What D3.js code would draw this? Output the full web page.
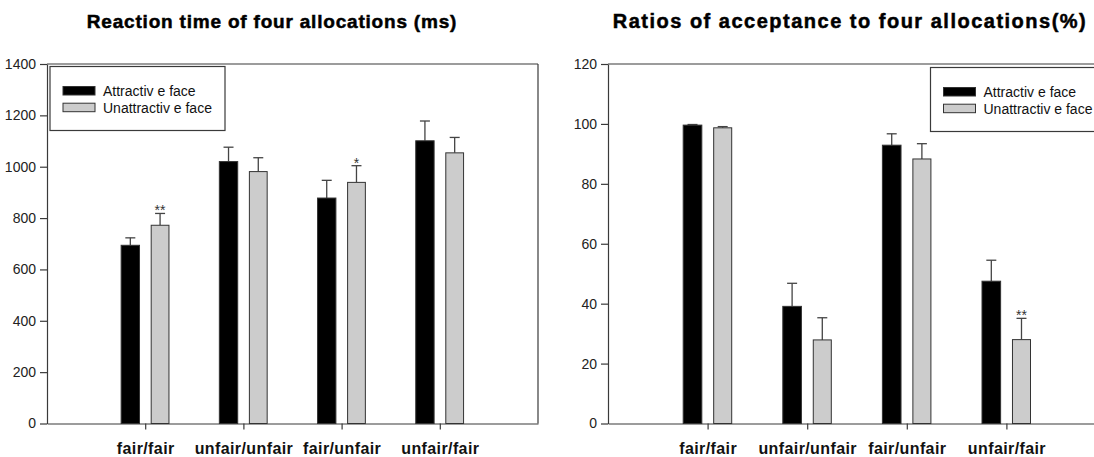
<!DOCTYPE html>
<html lang="en">
<head>
<meta charset="utf-8">
<title>Reaction time and acceptance</title>
<script src="https://cdn.jsdelivr.net/npm/d3@7"></script>
<style>
    body { margin: 0; background: #fff; }
    text { font-family: "Liberation Sans", Arial, sans-serif; }
</style>
</head>
<body>
<div id="chart"></div>
<script>
// data
var categories = ["fair/fair", "unfair/unfair", "fair/unfair", "unfair/fair"];
var seriesNames = ["Attractiv e face", "Unattractiv e face"];

var rtAttractive = [694, 1020, 878, 1101];
var rtAttractiveErr = [29, 56, 69, 77];
var rtUnattractive = [772, 981, 939, 1054];
var rtUnattractiveErr = [46, 54, 65, 60];
var rtStars = ["**", "", "*", ""];
var rtTicks = [0, 200, 400, 600, 800, 1000, 1200, 1400];

var accAttractive = [99.6, 39.1, 92.9, 47.5];
var accAttractiveErr = [0.2, 7.7, 3.8, 7.0];
var accUnattractive = [98.7, 27.9, 88.3, 28.0];
var accUnattractiveErr = [0.4, 7.4, 5.1, 7.1];
var accStars = ["", "", "", "**"];
var accTicks = [0, 20, 40, 60, 80, 100, 120];

var W = 1094, H = 457;
var svg = d3.select("#chart").append("svg")
    .attr("width", W).attr("height", H);

var lineCol = "#3a3a3a";

function panel(cfg) {
    var g = svg.append("g");
    var x = d3.scaleLinear().domain([0, 5]).range([cfg.left, cfg.right]);
    var y = d3.scaleLinear().domain([0, cfg.ymax]).range([423.5, 64]);

    // title
    g.append("text")
        .attr("x", cfg.titleX).attr("y", 28)
        .attr("text-anchor", "middle")
        .style("font-size", cfg.titleSize + "px").style("font-weight", "bold")
        .style("letter-spacing", cfg.titleSpacing + "px")
        .attr("stroke", "#000").attr("stroke-width", 0.5)
        .text(cfg.title);

    // frame top / right
    g.append("line").attr("x1", x(0)).attr("x2", x(5)).attr("y1", y(cfg.ymax)).attr("y2", y(cfg.ymax))
        .attr("stroke", lineCol).attr("stroke-width", 1.2);
    g.append("line").attr("x1", x(5)).attr("x2", x(5)).attr("y1", y(0)).attr("y2", y(cfg.ymax))
        .attr("stroke", lineCol).attr("stroke-width", 1.2);

    // y axis
    var ya = g.append("g").attr("transform", "translate(" + x(0) + ",0)")
        .call(d3.axisLeft(y).tickValues(cfg.ticks).tickFormat(d3.format("d"))
            .tickSize(7).tickPadding(4).tickSizeOuter(0));
    ya.selectAll("text").style("font-size", "14px").attr("fill", "#222").style("font-family", "Liberation Sans, Arial, sans-serif");
    ya.selectAll("line, path").attr("stroke", lineCol).attr("stroke-width", 1.2);

    // x axis
    var xa = g.append("g").attr("transform", "translate(0," + y(0) + ")")
        .call(d3.axisBottom(x).tickValues([1, 2, 3, 4]).tickSize(6).tickSizeOuter(0)
            .tickFormat(function (d) { return categories[d - 1]; }).tickPadding(13));
    xa.selectAll("text").style("font-size", "16px").style("font-weight", "bold").attr("fill", "#111")
        .style("font-family", "Liberation Sans, Arial, sans-serif").style("letter-spacing", "0.4px");
    xa.selectAll("line, path").attr("stroke", lineCol).attr("stroke-width", 1.2);

    var series = [
        { vals: cfg.a, err: cfg.aErr, x0: -0.245, x1: -0.058, fill: "#000", stars: null },
        { vals: cfg.b, err: cfg.bErr, x0: 0.061, x1: 0.242, fill: "#cccccc", stars: cfg.stars }
    ];

    series.forEach(function (s) {
        var sg = g.append("g");
        var cx = function (i) { return x(i + 1 + (s.x0 + s.x1) / 2); };
        // error bars (upper only)
        sg.selectAll(".eb").data(s.vals).enter().append("line")
            .attr("x1", function (d, i) { return cx(i); })
            .attr("x2", function (d, i) { return cx(i); })
            .attr("y1", function (d) { return y(d); })
            .attr("y2", function (d, i) { return y(d + s.err[i]); })
            .attr("stroke", "#444").attr("stroke-width", 1.3);
        sg.selectAll(".cap").data(s.vals).enter().append("line")
            .attr("x1", function (d, i) { return cx(i) - 5; })
            .attr("x2", function (d, i) { return cx(i) + 5; })
            .attr("y1", function (d, i) { return y(d + s.err[i]); })
            .attr("y2", function (d, i) { return y(d + s.err[i]); })
            .attr("stroke", "#444").attr("stroke-width", 1.3);
        sg.selectAll("rect").data(s.vals).enter().append("rect")
            .attr("x", function (d, i) { return x(i + 1 + s.x0); })
            .attr("width", function (d, i) { return x(i + 1 + s.x1) - x(i + 1 + s.x0); })
            .attr("y", function (d) { return y(d); })
            .attr("height", function (d) { return y(0) - y(d); })
            .attr("fill", s.fill).attr("stroke", "#333").attr("stroke-width", 1);
        if (s.stars) {
            sg.selectAll(".star").data(s.vals).enter().append("text")
                .attr("x", function (d, i) { return cx(i); })
                .attr("y", function (d, i) { return y(d + s.err[i]) + 2; })
                .attr("text-anchor", "middle")
                .style("font-size", "14px").attr("fill", "#333")
                .text(function (d, i) { return s.stars[i]; });
        }
    });

    // legend
    var lg = g.append("g");
    lg.append("rect").attr("x", cfg.legX).attr("y", cfg.legY).attr("width", cfg.legW).attr("height", 64)
        .attr("fill", "#fff").attr("stroke", lineCol).attr("stroke-width", 1.2);
    var items = [{ name: seriesNames[0], fill: "#000" }, { name: seriesNames[1], fill: "#cccccc" }];
    items.forEach(function (it, k) {
        lg.append("rect").attr("x", cfg.legX + 13).attr("y", cfg.legY + 20 + k * 16.7)
            .attr("width", 32).attr("height", 8.5)
            .attr("fill", it.fill).attr("stroke", "#333").attr("stroke-width", 1);
        lg.append("text").attr("x", cfg.legX + 53).attr("y", cfg.legY + 29.5 + k * 16.7)
            .style("font-size", "14px").attr("fill", "#111").text(it.name);
    });
}

panel({
    left: 47, right: 538, ymax: 1400, ticks: rtTicks,
    title: "Reaction time of four allocations (ms)", titleX: 272, titleSize: 19, titleSpacing: 0.8,
    a: rtAttractive, aErr: rtAttractiveErr, b: rtUnattractive, bErr: rtUnattractiveErr, stars: rtStars,
    legX: 50, legY: 66.5, legW: 175
});

panel({
    left: 608, right: 1106, ymax: 120, ticks: accTicks,
    title: "Ratios of acceptance to four allocations(%)", titleX: 850, titleSize: 20, titleSpacing: 1.5,
    a: accAttractive, aErr: accAttractiveErr, b: accUnattractive, bErr: accUnattractiveErr, stars: accStars,
    legX: 930.5, legY: 67.5, legW: 180
});
</script>
</body>
</html>
